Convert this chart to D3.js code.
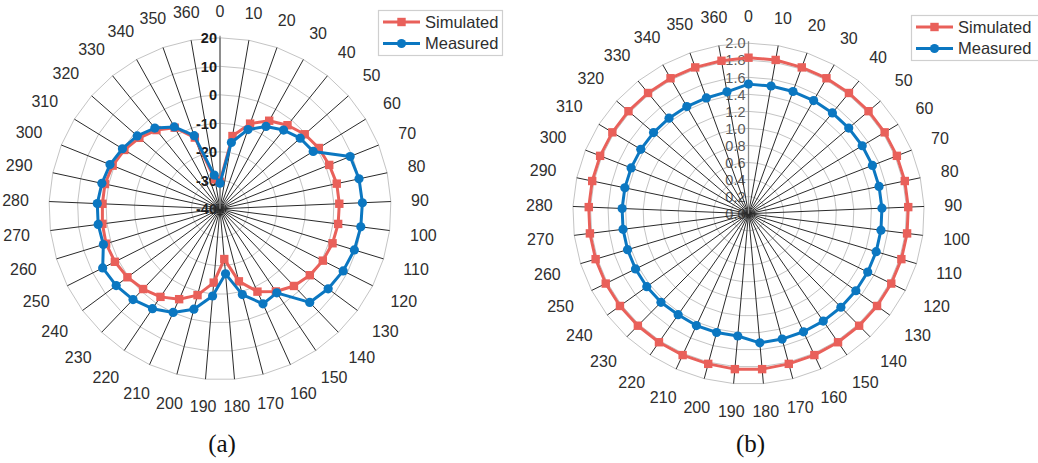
<!DOCTYPE html>
<html>
<head>
<meta charset="utf-8">
<script src="https://cdn.jsdelivr.net/npm/d3@7"></script>
<style>
  body { margin: 0; background: #fff; }
  svg { display: block; font-family: "Liberation Sans", Arial, sans-serif; }
</style>
</head>
<body>
<svg id="chart" width="1038" height="463"></svg>
<script>
// Angle categories (degrees); 0 and 360 are both plotted, as in a 37-spoke radar.
const categories = [0, 10, 20, 30, 40, 50, 60, 70, 80, 90, 100, 110, 120, 130, 140, 150, 160, 170, 180,
                    190, 200, 210, 220, 230, 240, 250, 260, 270, 280, 290, 300, 310, 320, 330, 340, 350, 360];

// (a) pattern in dB
const simulatedA = [-30.5, -14.1, -8.3, -4.6, -2.3, -0.4, 0.7, 1.3, 1.9, 1.9, 1.8, 1.3, 0.4, -0.8, -2.5, -5.0, -8.1, -13.7, -22.3,
                    -14.0, -8.7, -5.2, -2.7, -1.0, 0.4, 1.3, 1.8, 1.6, 1.3, 1.3, 0.6, -0.6, -2.3, -4.5, -7.4, -13.5, -29.5];
const measuredA  = [-31.0, -16.4, -10.5, -6.9, -4.5, -2.5, -1.6, 9.2, 9.9, 10.0, 9.8, 9.3, 8.4, 7.2, 5.5, -4.4, -3.4, -8.9, -17.1,
                    -9.3, -3.6, -0.1, 2.3, 4.1, 5.3, 6.1, 2.8, 3.1, 3.1, 2.4, 1.6, 0.2, -1.3, -3.6, -7.1, -12.8, -28.0];
const ticksA = [-40, -30, -20, -10, 0, 10, 20];

// (b) pattern, linear scale
const simulatedB = [1.83, 1.83, 1.82, 1.82, 1.82, 1.82, 1.82, 1.82, 1.82, 1.82, 1.82, 1.82, 1.82, 1.82, 1.82, 1.82, 1.82, 1.82, 1.83,
                    1.83, 1.82, 1.82, 1.82, 1.82, 1.82, 1.82, 1.82, 1.82, 1.82, 1.82, 1.82, 1.82, 1.82, 1.82, 1.82, 1.82, 1.82];
const measuredB  = [1.52, 1.52, 1.52, 1.52, 1.52, 1.52, 1.52, 1.52, 1.52, 1.52, 1.52, 1.52, 1.52, 1.52, 1.52, 1.52, 1.52, 1.52, 1.52,
                    1.44, 1.44, 1.44, 1.43, 1.44, 1.44, 1.44, 1.44, 1.44, 1.44, 1.44, 1.44, 1.44, 1.44, 1.44, 1.44, 1.44, 1.45];
const ticksB = [0.0, 0.2, 0.4, 0.6, 0.8, 1.0, 1.2, 1.4, 1.6, 1.8, 2.0];

const seriesNames = ["Simulated", "Measured"];
const RED = "#E9605A";
const BLUE = "#0B77C1";

const svg = d3.select("#chart");

function radar(o) {
  const g = svg.append("g");
  const n = categories.length;
  const angle = d3.scaleLinear().domain([0, n]).range([0, 2 * Math.PI]);
  const r = d3.scaleLinear().domain([o.ticks[0], o.ticks[o.ticks.length - 1]]).range([0, o.R]);
  const pt = (i, v) => {
    const a = angle(i), rr = r(v);
    return [o.cx + o.sx * rr * Math.sin(a), o.cy - rr * Math.cos(a)];
  };
  const idx = categories.map((c, i) => i);

  // grid rings
  g.selectAll("path.ring").data(o.ticks.slice(1)).join("path")
    .attr("class", "ring")
    .attr("d", t => d3.line()(idx.map(i => pt(i, t))) + "Z")
    .attr("fill", "none").attr("stroke", "#c4c4c4").attr("stroke-width", 1);

  // value labels along the 0-degree axis
  g.selectAll("text.vlab").data(o.ticks).join("text")
    .attr("class", "vlab")
    .attr("x", o.cx - 3)
    .attr("y", t => o.cy - r(t))
    .attr("dy", "0.36em")
    .attr("text-anchor", "end")
    .attr("font-size", 14.5)
    .attr("font-weight", o.boldTicks ? "bold" : "normal")
    .attr("fill", o.tickColor)
    .text(o.fmt);

  // spokes
  g.selectAll("line.spoke").data(idx).join("line")
    .attr("class", "spoke")
    .attr("x1", o.cx).attr("y1", o.cy)
    .attr("x2", i => pt(i, o.ticks[o.ticks.length - 1])[0])
    .attr("y2", i => pt(i, o.ticks[o.ticks.length - 1])[1])
    .attr("stroke", "#2a2a2a").attr("stroke-width", 1);

  // value axis
  g.append("line")
    .attr("x1", o.cx).attr("y1", o.cy)
    .attr("x2", o.cx).attr("y2", o.cy - o.R - 2)
    .attr("stroke", "#8a8a8a").attr("stroke-width", 1.3);

  // category labels
  const gap = 20;
  g.selectAll("text.clab").data(categories).join("text")
    .attr("class", "clab")
    .attr("font-size", 16)
    .attr("fill", "#2e2e2e")
    .attr("text-anchor", "middle")
    .attr("dy", "0.36em")
    .text(d => d)
    .each(function (d, i) {
      const a = angle(i);
      const hw = this.getComputedTextLength() / 2, hh = 6.5;
      const s = Math.sin(a), c = Math.cos(a);
      const d0 = gap + hw * Math.abs(s) + hh * Math.abs(c);
      d3.select(this)
        .attr("x", o.cx + (o.sx * o.R + d0) * s)
        .attr("y", o.cy - (o.R + d0) * c);
    });

  // series
  const line = d3.line().curve(d3.curveLinearClosed);
  const series = [
    { vals: o.sim, color: RED, marker: "square" },
    { vals: o.meas, color: BLUE, marker: "circle" }
  ];
  series.forEach(s => {
    const pts = s.vals.map((v, i) => pt(i, v));
    g.append("path").attr("d", line(pts))
      .attr("fill", "none").attr("stroke", s.color).attr("stroke-width", 3)
      .attr("stroke-linejoin", "round");
    if (s.marker === "square") {
      g.selectAll(null).data(pts).join("rect")
        .attr("x", p => p[0] - 4.2).attr("y", p => p[1] - 4.2)
        .attr("width", 8.4).attr("height", 8.4).attr("fill", s.color);
    } else {
      g.selectAll(null).data(pts).join("circle")
        .attr("cx", p => p[0]).attr("cy", p => p[1]).attr("r", 4.6).attr("fill", s.color);
    }
  });

  // legend
  const lg = svg.append("g");
  lg.append("rect")
    .attr("x", o.legend.x).attr("y", o.legend.y)
    .attr("width", o.legend.w).attr("height", 45)
    .attr("fill", "#fff").attr("stroke", "#cfcfcf").attr("stroke-width", 1.2);
  seriesNames.forEach((name, k) => {
    const y = o.legend.y + 11.5 + k * 21.5;
    const x0 = o.legend.x + 4.5, x1 = x0 + 37, xm = (x0 + x1) / 2;
    const col = k === 0 ? RED : BLUE;
    lg.append("line").attr("x1", x0).attr("x2", x1).attr("y1", y).attr("y2", y)
      .attr("stroke", col).attr("stroke-width", 3);
    if (k === 0) {
      lg.append("rect").attr("x", xm - 4.2).attr("y", y - 4.2).attr("width", 8.4).attr("height", 8.4).attr("fill", col);
    } else {
      lg.append("circle").attr("cx", xm).attr("cy", y).attr("r", 4.6).attr("fill", col);
    }
    lg.append("text").attr("x", x1 + 5).attr("y", y).attr("dy", "0.36em")
      .attr("font-size", 16.5).attr("fill", "#2e2e2e").text(name);
  });

  // caption
  svg.append("text")
    .attr("x", o.cx + 2).attr("y", 452)
    .attr("text-anchor", "middle")
    .attr("font-family", "'Liberation Serif', 'Times New Roman', serif")
    .attr("font-size", 25).attr("fill", "#111")
    .text(o.caption);
}

radar({
  cx: 220, cy: 208.8, R: 171, sx: 1,
  ticks: ticksA, fmt: d => d, boldTicks: true, tickColor: "#1a1a1a",
  sim: simulatedA, meas: measuredA,
  legend: { x: 378.5, y: 10.5, w: 124 },
  caption: "(a)"
});

radar({
  cx: 748.5, cy: 213.7, R: 170.5, sx: 175.7 / 170.5,
  ticks: ticksB, fmt: d3.format(".1f"), boldTicks: false, tickColor: "#5a5a5a",
  sim: simulatedB, meas: measuredB,
  legend: { x: 911.5, y: 15.5, w: 135 },
  caption: "(b)"
});
</script>
</body>
</html>
